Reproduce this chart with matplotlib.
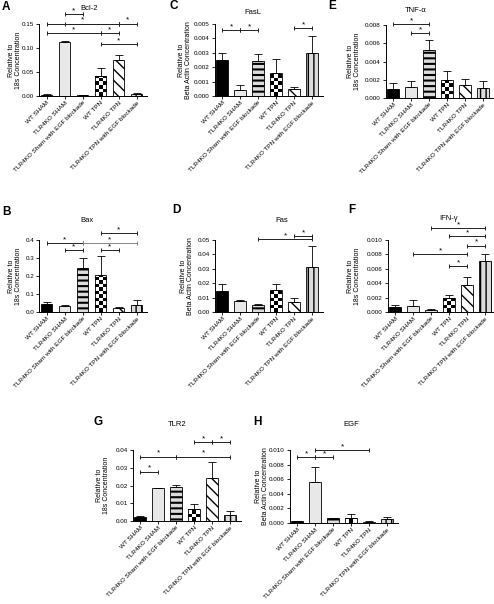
import numpy as np
import matplotlib
matplotlib.use('Agg')
import matplotlib.pyplot as plt

plt.rcParams['font.family'] = ['Liberation Sans', 'DejaVu Sans']
plt.rcParams['hatch.linewidth'] = 1.1

W, H = 494, 604

groups = ['WT SHAM', 'TLR4KO SHAM', 'TLR4KO Sham with EGF blockade',
          'WT TPN', 'TLR4KO TPN', 'TLR4KO TPN with EGF blockade']

# valeurs (moyenne, erreur haute)
bcl2 = [0.0025, 0.112, 0.0015, 0.042, 0.076, 0.0035]
bcl2_err = [0.0015, 0.0027, 0.0005, 0.017, 0.010, 0.0035]
bcl2_sig = [(1, 2, 0.171, True), (0, 4, 0.151, True), (1, 4, 0.151, False),
            (4, 5, 0.151, True), (0, 3, 0.131, True), (3, 4, 0.131, True),
            (3, 5, 0.108, True)]

bax = [0.043, 0.0335, 0.247, 0.205, 0.024, 0.037]
bax_err = [0.015, 0.0075, 0.053, 0.108, 0.006, 0.030]
bax_sig = [(0, 2, 0.381, True), (2, 5, 0.381, True), (1, 2, 0.344, True),
           (3, 4, 0.344, True), (3, 5, 0.437, True)]

fasl = [0.0025, 0.0004, 0.00245, 0.0016, 0.0005, 0.003]
fasl_err = [0.0005, 0.00037, 0.0005, 0.001, 0.00013, 0.0012]
fasl_sig = [(0, 1, 0.00458, True), (1, 2, 0.00458, True), (4, 5, 0.00472, True)]

fas = [0.0143, 0.0074, 0.0048, 0.015, 0.0069, 0.0313]
fas_err = [0.0051, 0.0006, 0.001, 0.0044, 0.0028, 0.0143]
fas_sig = [(2, 5, 0.0507, True), (4, 5, 0.0525, True)]

tnf = [0.001, 0.00125, 0.00525, 0.002, 0.0014, 0.0011]
tnf_err = [0.0006, 0.00065, 0.0011, 0.001, 0.0007, 0.0008]
tnf_sig = [(0, 2, 0.0081, True), (1, 2, 0.0071, True)]

ifn = [0.00065, 0.00084, 0.0003, 0.0019, 0.0037, 0.0071]
ifn_err = [0.00035, 0.00086, 0.0001, 0.0004, 0.0012, 0.001]
ifn_sig = [(2, 5, 0.0116, True), (3, 5, 0.0105, True), (4, 5, 0.0092, True),
           (1, 4, 0.0080, True), (3, 4, 0.0064, True)]

tlr2 = [0.0024, 0.0184, 0.019, 0.0065, 0.0245, 0.0032]
tlr2_err = [0.0006, 0.0004, 0.0015, 0.0028, 0.009, 0.0024]
tlr2_sig = [(0, 1, 0.0277, True), (0, 2, 0.0363, True), (2, 5, 0.0363, True),
            (3, 4, 0.0445, True), (4, 5, 0.0445, True)]

egf = [0.00023, 0.0056, 0.00065, 0.00073, 0.00018, 0.0006]
egf_err = [0.00007, 0.0021, 0.00008, 0.00057, 0.0001, 0.0002]
egf_sig = [(0, 1, 0.009, True), (1, 2, 0.009, True), (1, 4, 0.010, True)]

lab18 = 'Relative to\n18s Concentration'
labba = 'Relative to\nBeta Actin Concentration'

# lettre, titre, données, axe y, position (px): gauche, base, haut, titre xy, lettre xy, ylabel x
panels = [
    dict(letter='A', title='Bcl-2', vals=bcl2, err=bcl2_err, sig=bcl2_sig, ytop=0.15, step=0.05, fmt='%.2f',
         ylabel=lab18, left=39, base=96, top=24, txy=(89, 9), lxy=(2, 7), ylx=15),
    dict(letter='B', title='Bax', vals=bax, err=bax_err, sig=bax_sig, ytop=0.4, step=0.1, fmt='%.1f',
         ylabel=lab18, left=39, base=312, top=240, txy=(87, 221), lxy=(2, 212), ylx=15),
    dict(letter='C', title='FasL', vals=fasl, err=fasl_err, sig=fasl_sig, ytop=0.005, step=0.001, fmt='%.3f',
         ylabel=labba, left=214.5, base=96, top=24, txy=(253, 12), lxy=(170, 6), ylx=185),
    dict(letter='D', title='Fas', vals=fas, err=fas_err, sig=fas_sig, ytop=0.05, step=0.01, fmt='%.2f',
         ylabel=labba, left=214.5, base=312, top=240, txy=(282, 221), lxy=(172, 210), ylx=187),
    dict(letter='E', title='TNF-α', vals=tnf, err=tnf_err, sig=tnf_sig, ytop=0.008, step=0.002, fmt='%.3f',
         ylabel=lab18, left=385.5, base=98, top=25, txy=(416, 10), lxy=(328, 6), ylx=354),
    dict(letter='F', title='IFN-γ', vals=ifn, err=ifn_err, sig=ifn_sig, ytop=0.010, step=0.002, fmt='%.3f',
         ylabel=lab18, left=387.5, base=312, top=240, txy=(449, 219), lxy=(348, 210), ylx=354),
    dict(letter='G', title='TLR2', vals=tlr2, err=tlr2_err, sig=tlr2_sig, ytop=0.04, step=0.01, fmt='%.2f',
         ylabel=lab18, left=132.5, base=521, top=450, txy=(177, 424), lxy=(93, 422), ylx=103),
    dict(letter='H', title='EGF', vals=egf, err=egf_err, sig=egf_sig, ytop=0.010, step=0.002, fmt='%.3f',
         ylabel=labba, left=289.5, base=523, top=450, txy=(351, 425), lxy=(253, 422), ylx=262),
]

faces = ['black', '#e8e8e8', '#dcdcdc', 'none', 'white', '#dcdcdc']
hatches = [None, None, '---', None, '\\\\\\', '|||']
spacing = 18.0
xmin, xmax = -0.42, 5.6

fig = plt.figure(figsize=(W / 100, H / 100), dpi=100)

for p in panels:
    width_px = (xmax - xmin) * spacing
    height_px = p['base'] - p['top']
    ax = fig.add_axes([p['left'] / W, 1 - p['base'] / H, width_px / W, height_px / H])
    x = np.arange(len(groups))
    bars = ax.bar(x, p['vals'], width=0.62, color=faces, edgecolor='black', linewidth=0.6, zorder=2)
    for b, h in zip(bars, hatches):
        if h:
            b.set_hatch(h)
            if hasattr(b, 'set_hatch_linewidth'):
                b.set_hatch_linewidth(1.5 if h == '---' else 1.0)
    ax.errorbar(x, p['vals'], yerr=[np.zeros(len(x)), p['err']], fmt='none', ecolor='black',
                elinewidth=0.6, capsize=3, capthick=0.6, zorder=3)

    # damier pour WT TPN
    b = bars[3]
    sq = 3.5
    hpx = b.get_height() / p['ytop'] * height_px
    ny = max(1, int(np.ceil(hpx / sq)))
    nx = 3
    check = np.indices((ny, nx)).sum(axis=0) % 2
    im = ax.imshow(check, cmap='gray_r', vmin=0, vmax=1, origin='lower', aspect='auto',
                   interpolation='nearest', zorder=1.5,
                   extent=[b.get_x(), b.get_x() + b.get_width(), 0, ny * sq / height_px * p['ytop']])
    im.set_clip_path(b)

    for i, j, y, star in p['sig']:
        col = '#888888' if (p['letter'] == 'B' and (i, j) == (2, 5)) else '#222222'
        ax.plot([i, j], [y, y], color=col, lw=0.7, marker='|', ms=3, mew=0.7, clip_on=False, zorder=4)
        if star:
            ax.text((i + j) / 2, y, '*', ha='center', va='bottom', fontsize=6, clip_on=False)

    ax.set_xlim(xmin, xmax)
    ax.set_ylim(0, p['ytop'])
    ticks = np.arange(0, p['ytop'] + p['step'] / 2, p['step'])
    ax.set_yticks(ticks, [p['fmt'] % t for t in ticks])
    ax.set_xticks(x, groups, rotation=45, ha='right', rotation_mode='anchor')
    ax.tick_params(length=2, width=0.6, labelsize=4.5, pad=1.5)
    ax.tick_params(axis='x', labelsize=4.6, pad=1)
    for s in ['top', 'right']:
        ax.spines[s].set_visible(False)
    for s in ['left', 'bottom']:
        ax.spines[s].set_linewidth(0.7)

    ax.set_ylabel(p['ylabel'], fontsize=5, va='center', linespacing=1.1)
    ax.yaxis.set_label_coords((p['ylx'] - p['left']) / width_px, 0.5)

    fig.text(p['txy'][0] / W, 1 - p['txy'][1] / H, p['title'], ha='center', va='center', fontsize=5.5)
    fig.text(p['lxy'][0] / W, 1 - p['lxy'][1] / H, p['letter'], ha='left', va='center',
             fontsize=8.5, fontweight='bold')

plt.savefig('out.png', dpi=100)
